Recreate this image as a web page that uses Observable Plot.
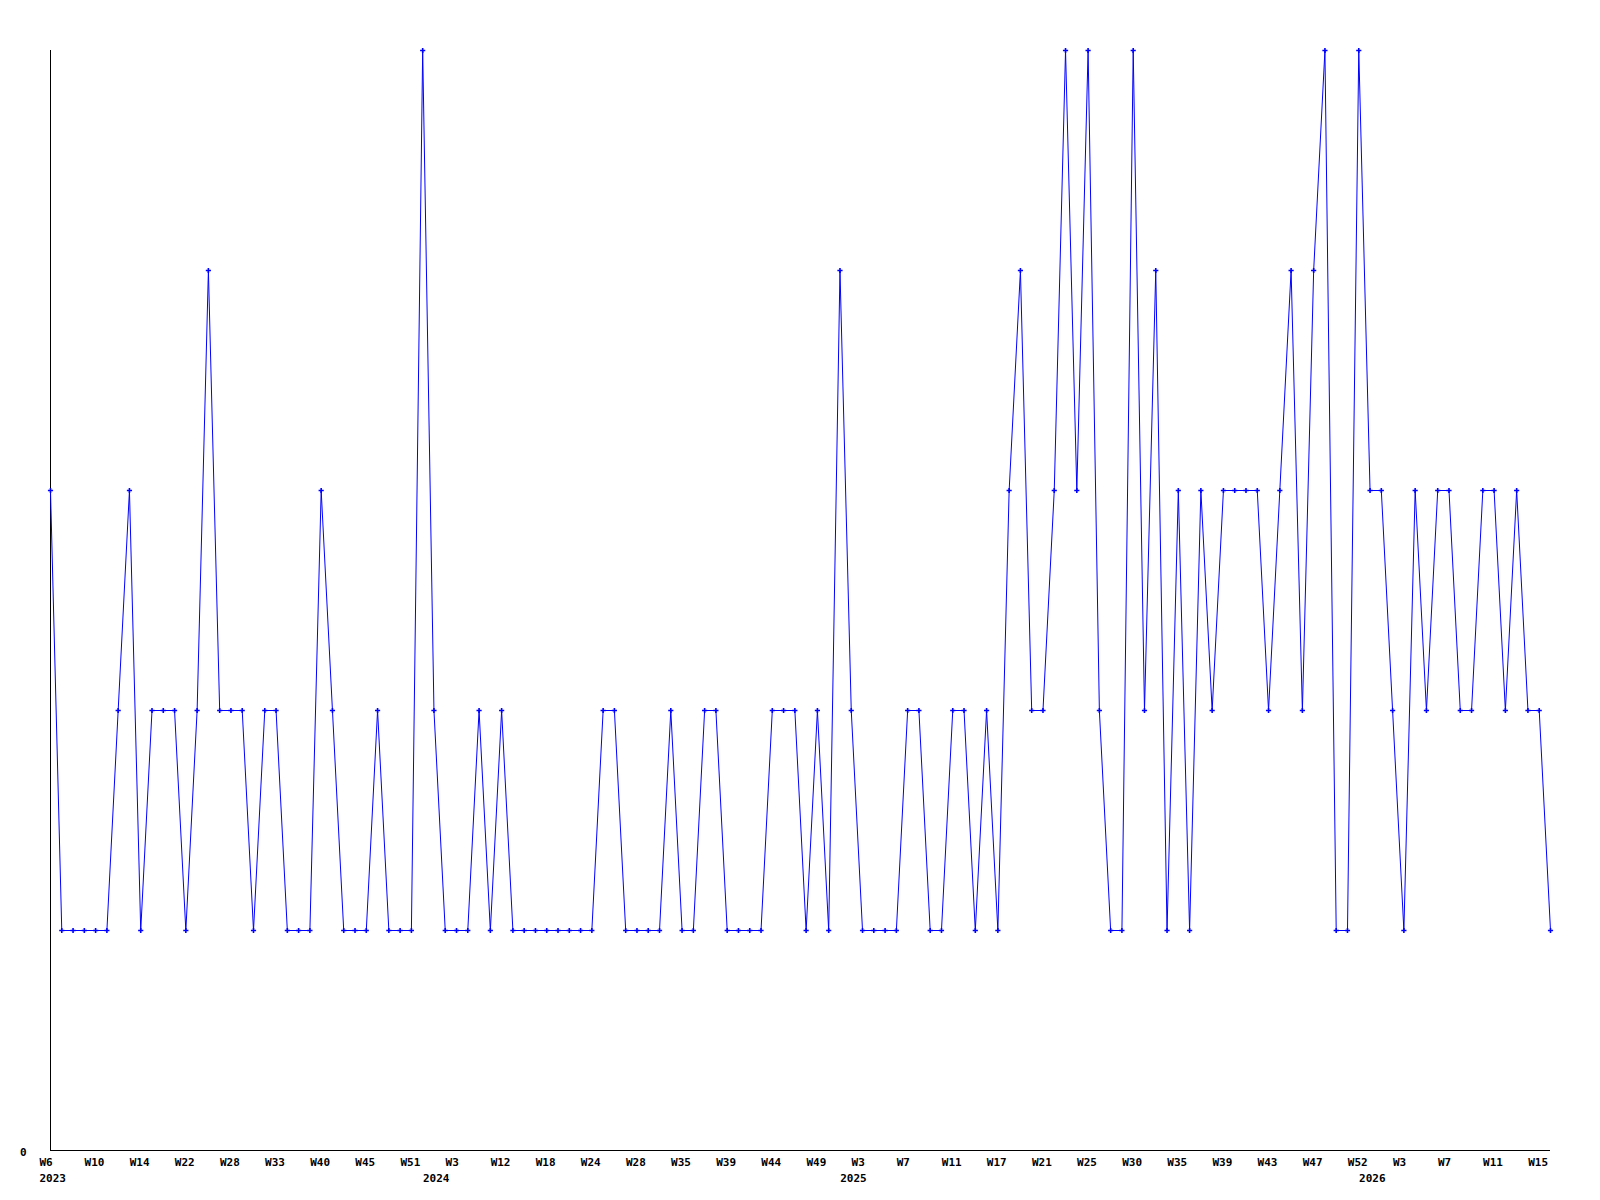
<!DOCTYPE html>
<html>
<head>
<meta charset="utf-8">
<script src="https://cdn.jsdelivr.net/npm/d3@7"></script>
<script src="https://cdn.jsdelivr.net/npm/@observablehq/plot@0.6"></script>
<style>
  html, body { margin: 0; padding: 0; background: #ffffff; }
  #chart svg { display: block; }
</style>
</head>
<body>
<div id="chart"></div>
<script>
// Week categories (only weeks present in the data, in order)
const weeks = [
  "2023-W06","2023-W07","2023-W08","2023-W09","2023-W10","2023-W11","2023-W12","2023-W13",
  "2023-W14","2023-W16","2023-W18","2023-W20","2023-W22","2023-W23","2023-W25","2023-W26",
  "2023-W28","2023-W29","2023-W31","2023-W32","2023-W33","2023-W35","2023-W37","2023-W38",
  "2023-W40","2023-W41","2023-W42","2023-W44","2023-W45","2023-W47","2023-W48","2023-W50",
  "2023-W51","2023-W52",
  "2024-W01","2024-W02","2024-W03","2024-W05","2024-W07","2024-W10","2024-W12","2024-W13",
  "2024-W14","2024-W16","2024-W18","2024-W20","2024-W21","2024-W22","2024-W24","2024-W25",
  "2024-W26","2024-W27","2024-W28","2024-W30","2024-W32","2024-W34","2024-W35","2024-W36",
  "2024-W37","2024-W38","2024-W39","2024-W40","2024-W41","2024-W43","2024-W44","2024-W45",
  "2024-W46","2024-W47","2024-W49","2024-W50","2024-W51",
  "2025-W02","2025-W03","2025-W04","2025-W05","2025-W06","2025-W07","2025-W08","2025-W09",
  "2025-W10","2025-W11","2025-W13","2025-W14","2025-W16","2025-W17","2025-W18","2025-W19",
  "2025-W20","2025-W21","2025-W22","2025-W23","2025-W24","2025-W25","2025-W26","2025-W28",
  "2025-W29","2025-W30","2025-W31","2025-W32","2025-W34","2025-W35","2025-W36","2025-W37",
  "2025-W38","2025-W39","2025-W40","2025-W41","2025-W42","2025-W43","2025-W44","2025-W45",
  "2025-W46","2025-W47","2025-W48","2025-W50","2025-W51","2025-W52",
  "2026-W00","2026-W01","2026-W02","2026-W03","2026-W04","2026-W05","2026-W06","2026-W07",
  "2026-W08","2026-W09","2026-W10","2026-W11","2026-W12","2026-W13","2026-W14","2026-W15",
  "2026-W16"
];

// Weekly values
const counts = [
  3,1,1,1,1,1,2,3,1,2,2,2,1,2,4,2,2,2,1,2,2,1,1,1,3,2,1,1,1,2,1,1,1,5,
  2,1,1,1,2,1,2,1,1,1,1,1,1,1,1,2,2,1,1,1,1,2,1,1,2,2,1,1,1,1,2,2,2,1,2,1,4,
  2,1,1,1,1,2,2,1,1,2,2,1,2,1,3,4,2,2,3,5,3,5,2,1,1,5,2,4,1,3,1,3,2,3,3,3,3,2,3,4,2,4,5,1,1,5,
  3,3,2,1,3,2,3,3,2,2,3,3,2,3,2,2,1
];

// Labelled x ticks
const tickWeeks = [
  "2023-W06","2023-W10","2023-W14","2023-W22","2023-W28","2023-W33","2023-W40","2023-W45","2023-W51",
  "2024-W03","2024-W12","2024-W18","2024-W24","2024-W28","2024-W35","2024-W39","2024-W44","2024-W49",
  "2025-W03","2025-W07","2025-W11","2025-W17","2025-W21","2025-W25","2025-W30","2025-W35","2025-W39",
  "2025-W43","2025-W47","2025-W52",
  "2026-W03","2026-W07","2026-W11","2026-W15"
];

// Year labels placed at the first week of each year in the data
const yearStarts = ["2023-W06","2024-W01","2025-W02","2026-W00"];
const yTicks = [0];

const data = weeks.map((w, i) => ({week: w, count: counts[i]}));
const years = yearStarts.map(w => ({week: w, year: w.slice(0, 4)}));
const weekLabel = w => "W" + (+w.slice(6));

const font = "'DejaVu Sans Mono', 'Liberation Mono', monospace";

const chart = Plot.plot({
  width: 1600,
  height: 1200,
  marginTop: 50,
  marginBottom: 50,
  marginLeft: 50,
  marginRight: 50,
  style: {fontFamily: font, fontSize: "11px", fontWeight: "bold", color: "#000", background: "#fff"},
  x: {type: "point", domain: weeks, padding: 0},
  y: {domain: [0, 5]},
  marks: [
    Plot.axisY({ticks: yTicks, tickSize: 0, tickPadding: 24, tickFormat: d => String(d), label: null, dy: 2, fill: "#000"}),
    Plot.axisX({ticks: tickWeeks, tickSize: 0, tickPadding: 8, tickFormat: weekLabel, label: null, textAnchor: "start", dx: -11, fill: "#000"}),
    Plot.text(years, {x: "week", text: "year", frameAnchor: "bottom", dy: 31, dx: -11, textAnchor: "start", fill: "#000"}),
    Plot.ruleX([weeks[0]], {y1: 0, y2: 5, stroke: "#000", strokeWidth: 1, shapeRendering: "crispEdges"}),
    Plot.ruleY([0], {stroke: "#000", strokeWidth: 1, shapeRendering: "crispEdges"}),
    Plot.line(data, {x: "week", y: "count", stroke: "#0000ff", strokeWidth: 1, curve: "linear"}),
    Plot.dot(data, {x: "week", y: "count", symbol: "plus", r: 1.8, stroke: "#0000ff", strokeWidth: 1.6})
  ]
});

document.getElementById("chart").appendChild(chart);
</script>
</body>
</html>
